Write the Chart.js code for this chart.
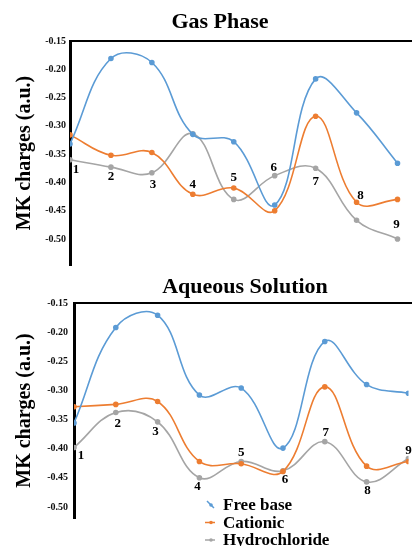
<!DOCTYPE html>
<html>
<head>
<meta charset="utf-8">
<script src="https://cdn.jsdelivr.net/npm/chart.js@4/dist/chart.umd.min.js"></script>
<style>
  html, body { margin: 0; padding: 0; background: #fff; overflow: hidden; }
  canvas { display: block; }
</style>
</head>
<body>
<canvas id="gas" width="412" height="275"></canvas>
<canvas id="aq" width="412" height="271"></canvas>
<script>
const sites = [1, 2, 3, 4, 5, 6, 7, 8, 9];
const pointLabels = ['1', '2', '3', '4', '5', '6', '7', '8', '9'];
const yTicks = [-0.15, -0.20, -0.25, -0.30, -0.35, -0.40, -0.45, -0.50];
const seriesNames = ['Free base', 'Cationic', 'Hydrochloride'];

// gas phase
const gasFreeBase = [-0.332, -0.181, -0.188, -0.315, -0.328, -0.440, -0.217, -0.277, -0.366];
const gasCationic = [-0.316, -0.352, -0.347, -0.421, -0.410, -0.450, -0.283, -0.435, -0.430];
const gasHydrochloride = [-0.360, -0.373, -0.383, -0.314, -0.430, -0.388, -0.375, -0.467, -0.500];

// aqueous solution
const aqFreeBase = [-0.356, -0.192, -0.171, -0.308, -0.296, -0.399, -0.216, -0.290, -0.305];
const aqCationic = [-0.328, -0.324, -0.319, -0.422, -0.426, -0.439, -0.294, -0.430, -0.422];
const aqHydrochloride = [-0.398, -0.338, -0.354, -0.450, -0.422, -0.438, -0.388, -0.457, -0.417];

const colors = ['#5b9bd5', '#ed7d31', '#a5a5a5'];
const serif = '"Liberation Serif", "Times New Roman", serif';

function makeSets(lists) {
    return lists.map((vals, k) => ({
        label: seriesNames[k],
        data: sites.map((s, i) => ({ x: s, y: vals[i] })),
        borderColor: colors[k],
        backgroundColor: colors[k],
        borderWidth: 1.6,
        pointRadius: 2,
        pointHoverRadius: 2,
        tension: 0.4,
        fill: false
    }));
}

// titles, top frame line, site numbers and legend
const decor = {
    id: 'decor',
    afterDraw(chart, args, opts) {
        const ctx = chart.ctx;
        const a = chart.chartArea;
        ctx.save();
        ctx.strokeStyle = '#000';
        ctx.lineWidth = 2;
        ctx.beginPath();
        ctx.moveTo(a.left, a.top);
        ctx.lineTo(chart.width, a.top);
        ctx.stroke();

        ctx.fillStyle = '#000';
        ctx.textAlign = 'center';
        ctx.textBaseline = 'alphabetic';
        ctx.font = 'bold 22px ' + serif;
        ctx.fillText(opts.title, opts.titleX, opts.titleY);

        ctx.font = 'bold 13px ' + serif;
        ctx.textBaseline = 'middle';
        opts.marks.forEach((m, i) => {
            const pt = chart.getDatasetMeta(m[0]).data[i];
            ctx.fillText(pointLabels[i], pt.x + m[1], pt.y + m[2]);
        });

        if (opts.legend) {
            ctx.textAlign = 'left';
            ctx.textBaseline = 'alphabetic';
            ctx.font = 'bold 17px ' + serif;
            chart.data.datasets.forEach((ds, k) => {
                const by = opts.legend.y + k * 17.5;
                const mx = opts.legend.x - 12;
                const my = by - 5;
                ctx.strokeStyle = ds.borderColor;
                ctx.fillStyle = ds.borderColor;
                ctx.lineWidth = 1.5;
                ctx.beginPath();
                if (k === 0) {
                    ctx.moveTo(mx - 4, my - 4);
                    ctx.lineTo(mx + 3, my + 3);
                } else {
                    ctx.moveTo(mx - 6, my);
                    ctx.lineTo(mx + 4, my);
                }
                ctx.stroke();
                ctx.beginPath();
                ctx.arc(mx, my, 1.8, 0, Math.PI * 2);
                ctx.fill();
                ctx.fillStyle = '#000';
                ctx.fillText(ds.label, opts.legend.x, by);
            });
        }
        ctx.restore();
    }
};

function makeChart(id, lists, axisW, tickPad, xMax, yMin, pad, decorOpts) {
    return new Chart(document.getElementById(id), {
        type: 'line',
        data: { datasets: makeSets(lists) },
        plugins: [decor],
        options: {
            responsive: false,
            animation: false,
            devicePixelRatio: 1,
            layout: { padding: pad },
            plugins: {
                legend: { display: false },
                tooltip: { enabled: false },
                decor: decorOpts
            },
            scales: {
                x: {
                    type: 'linear',
                    min: 1,
                    max: xMax,
                    display: false
                },
                y: {
                    min: yMin,
                    max: -0.15,
                    grid: { display: false, drawTicks: false },
                    border: { display: true, color: '#000', width: 3 },
                    afterBuildTicks: s => { s.ticks = yTicks.map(v => ({ value: v })); },
                    afterFit: s => { s.width = axisW; },
                    ticks: {
                        padding: tickPad,
                        color: '#111',
                        font: { family: serif, size: 10, weight: 'bold' },
                        callback: v => v.toFixed(2)
                    },
                    title: {
                        display: true,
                        text: 'MK charges (a.u.)',
                        color: '#000',
                        font: { family: serif, size: 20, weight: 'bold' },
                        padding: { top: 13, bottom: 0 }
                    }
                }
            }
        }
    });
}

makeChart('gas', [gasFreeBase, gasCationic, gasHydrochloride], 70, 4, 9.266, -0.546,
    { top: 41, bottom: 3, left: 0, right: 0 },
    {
        title: 'Gas Phase', titleX: 220, titleY: 28,
        marks: [[2, 6, 10], [2, 0, 9], [2, 1, 12], [1, 0, -10], [1, 0, -10],
                [2, -1, -8], [2, 0, 13], [1, 4, -7], [2, -1, -14]]
    });

makeChart('aq', [aqFreeBase, aqCationic, aqHydrochloride], 74, 6, 9.0, -0.519,
    { top: 28, bottom: 28, left: 0, right: 0 },
    {
        title: 'Aqueous Solution', titleX: 245, titleY: 18,
        marks: [[2, 7, 8], [2, 2, 11], [2, -2, 10], [2, -2, 9], [2, 0, -9],
                [2, 2, 9], [2, 1, -9], [2, 1, 9], [2, 0, -8]],
        legend: { x: 223, y: 235 }
    });
</script>
</body>
</html>
